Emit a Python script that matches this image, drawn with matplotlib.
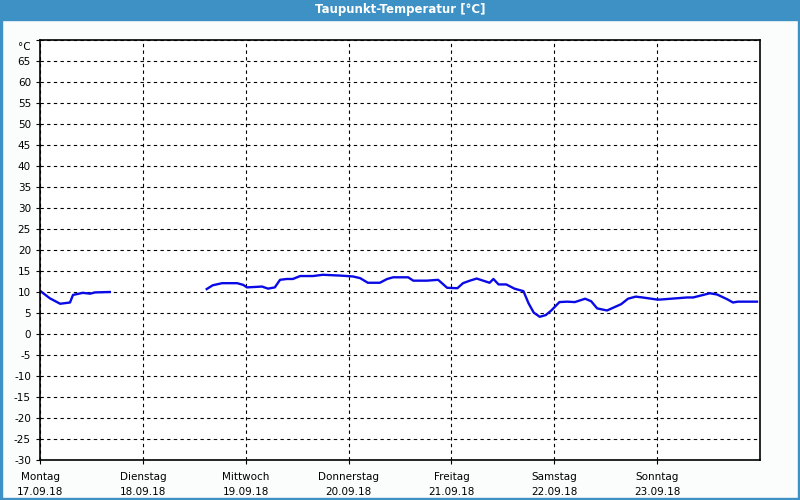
import numpy as np
import matplotlib.pyplot as plt
from matplotlib.patches import Rectangle
from matplotlib.transforms import ScaledTranslation

# hours since Monday 00:00, dew point in degC (NaN = gap in the record)
hours = [0.0, 2.3, 4.7, 7.0, 7.7, 10.0, 11.7, 12.8, 16.3,
         16.4,
         38.9, 40.3, 42.5, 46.0, 47.4, 48.3, 50.2, 51.8, 53.2, 54.8,
         56.0, 57.6, 59.0, 60.7, 63.7, 66.0, 70.2, 73.0, 74.7, 76.5,
         79.3, 81.0, 82.4, 85.9, 87.1, 90.3, 92.9, 95.0, 97.4, 98.7,
         100.3, 101.9, 104.9, 105.8, 107.0, 108.8, 110.7, 112.8, 114.0,
         115.2, 116.6, 118.0, 119.3, 121.2, 123.0, 124.8, 127.2, 128.6,
         130.0, 132.3, 135.6, 137.2, 139.0, 140.6, 144.0, 144.7, 151.0,
         152.4, 156.3, 158.0, 160.3, 161.7, 162.8, 164.5, 167.3]
dew = [10.3, 8.5, 7.2, 7.5, 9.3, 9.8, 9.6, 9.9, 10.0,
       np.nan,
       10.7, 11.6, 12.1, 12.1, 11.7, 11.1, 11.2, 11.3, 10.8, 11.1,
       12.9, 13.1, 13.1, 13.8, 13.8, 14.1, 13.9, 13.7, 13.3, 12.2,
       12.2, 13.1, 13.5, 13.5, 12.7, 12.7, 12.9, 11.0, 10.9, 12.1,
       12.7, 13.2, 12.2, 13.1, 11.8, 11.8, 10.8, 10.2, 7.3,
       5.1, 4.1, 4.5, 5.6, 7.6, 7.7, 7.6, 8.4, 7.8,
       6.1, 5.6, 7.1, 8.4, 8.9, 8.7, 8.2, 8.2, 8.7,
       8.7, 9.7, 9.4, 8.3, 7.5, 7.7, 7.7, 7.7]

days = ['Montag', 'Dienstag', 'Mittwoch', 'Donnerstag', 'Freitag', 'Samstag', 'Sonntag']
dates = ['17.09.18', '18.09.18', '19.09.18', '20.09.18', '21.09.18', '22.09.18', '23.09.18']

fig = plt.figure(figsize=(8, 5), dpi=100, facecolor='#fbfdfc')
blue = '#3d91c4'
fig.patches.append(Rectangle((0, 0.96), 1, 0.04, transform=fig.transFigure, color=blue, zorder=0))
for r in [(0, 0, 0.003, 1), (0.997, 0, 0.003, 1), (0, 0, 1, 0.004)]:
    fig.patches.append(Rectangle(r[:2], r[2], r[3], transform=fig.transFigure, color=blue, zorder=0))
fig.text(0.5, 0.98, 'Taupunkt-Temperatur [°C]', color='white', ha='center', va='center',
         fontsize=8.5, fontweight='bold')

ax = fig.add_axes([0.05, 0.08, 0.9, 0.84])
ax.set_facecolor('white')
x = np.array(hours) / 24.0
ax.plot(x, dew, color='#0a0ae6', lw=1.7)

ax.set_xlim(0, 7)
ax.set_ylim(-30, 70)
ax.set_yticks(np.arange(-30, 75, 5))
ax.set_yticklabels([str(v) for v in range(-30, 70, 5)] + ['°C'])
ax.set_xticks(range(7))
ax.set_xticklabels([d + '\n' + t for d, t in zip(days, dates)], linespacing=1.6)
ax.tick_params(labelsize=7.5, length=3, width=0.8, color='black')
ax.tick_params(axis='x', pad=6)
ax.grid(True, color='black', linestyle=(0, (3, 3)), linewidth=0.8)
for s in ax.spines.values():
    s.set_linewidth(1.2)

# unit label sits a little below the top edge
lbl = ax.get_yticklabels()[-1]
lbl.set_transform(lbl.get_transform() + ScaledTranslation(0, -4 / 72, fig.dpi_scale_trans))

fig.savefig('out.png', dpi=100, facecolor=fig.get_facecolor())
